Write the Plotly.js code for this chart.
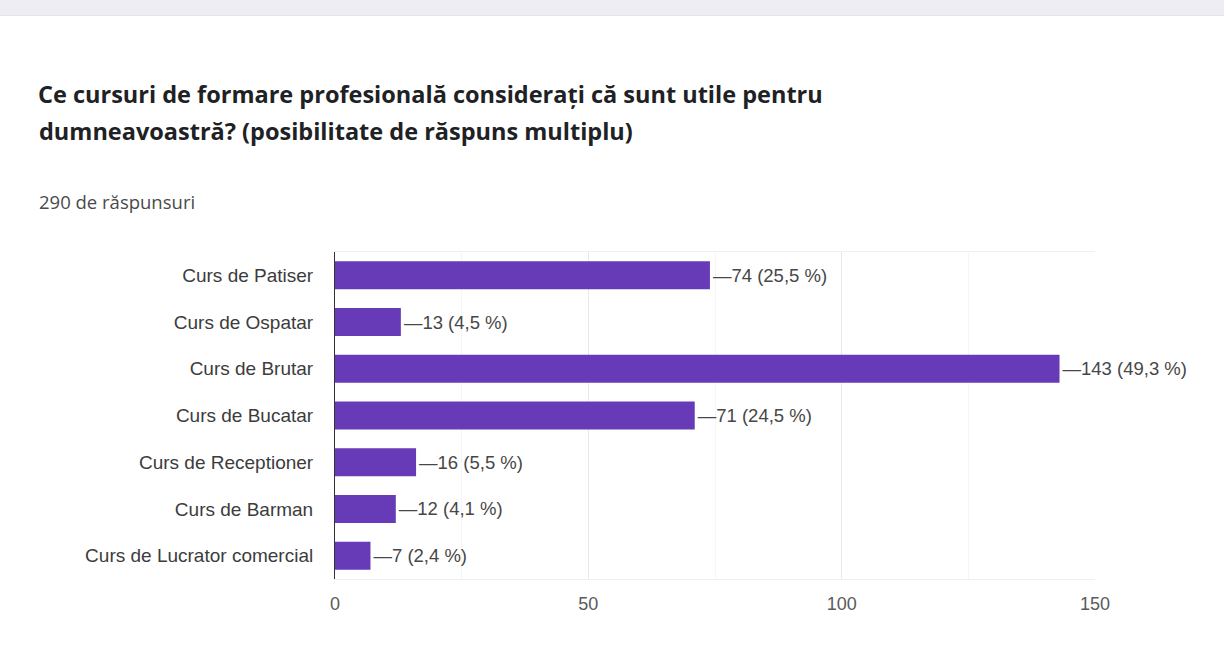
<!DOCTYPE html>
<html>
<head>
<meta charset="utf-8">
<script src="https://cdn.plot.ly/plotly-3.0.1.min.js"></script>
<style>
  html, body { margin:0; padding:0; background:#ffffff; }
  #band { position:absolute; left:0; top:0; width:1224px; height:15px; background:#eeedf3; border-bottom:1px solid #e4e2ec; }
  #chart { position:absolute; left:0; top:0; width:1224px; height:668px; }
</style>
</head>
<body>
<div id="chart"></div>
<div id="band"></div>
<script>
const categories = [
  "Curs de Patiser",
  "Curs de Ospatar",
  "Curs de Brutar",
  "Curs de Bucatar",
  "Curs de Receptioner",
  "Curs de Barman",
  "Curs de Lucrator comercial"
];
const counts = [74, 13, 143, 71, 16, 12, 7];
const percents = ["25,5", "4,5", "49,3", "24,5", "5,5", "4,1", "2,4"];
const xTicks = [0, 50, 100, 150];
const xMinorTicks = [25, 75, 125];
const titleLine1 = "Ce cursuri de formare profesională considerați că sunt utile pentru";
const titleLine2 = "dumneavoastră? (posibilitate de răspuns multiplu)";
const subtitle = "290 de răspunsuri";

const labels = counts.map((c, i) => "\u2014" + c + " (" + percents[i] + " %)");

const trace = {
  type: "bar",
  orientation: "h",
  x: counts,
  y: categories,
  marker: { color: "#673ab7" },
  width: 0.6,
  text: labels,
  textposition: "outside",
  constraintext: "none",
  cliponaxis: false,
  textfont: { family: "Liberation Sans, Arial, sans-serif", size: 18.5, color: "#474747" },
  hoverinfo: "none"
};

const W = 1224, H = 668;
const ML = 335, MR = 129, MT = 252, MB = 89;
const PW = W - ML - MR, PH = H - MT - MB;
const titleFont = { family: "Open Sans, Roboto, Arial, sans-serif", size: 23.5, color: "#202124" };
const layout = {
  width: W, height: H,
  paper_bgcolor: "#ffffff",
  plot_bgcolor: "#ffffff",
  margin: { l: ML, r: MR, t: MT, b: MB },
  showlegend: false,
  title: {
    text: "<b>" + titleLine1 + "</b>",
    x: 38 / W, xanchor: "left",
    y: 1 - 95 / H, yanchor: "middle",
    font: titleFont
  },
  annotations: [
    {
      text: "<b>" + titleLine2 + "</b>",
      xref: "paper", yref: "paper",
      x: (38 - ML) / PW, xanchor: "left",
      y: 1 + (MT - 131) / PH, yanchor: "middle",
      showarrow: false,
      borderpad: 0,
      font: titleFont
    },
    {
      text: subtitle,
      xref: "paper", yref: "paper",
      x: (38 - ML) / PW, xanchor: "left",
      y: 1 + (MT - 201) / PH, yanchor: "middle",
      showarrow: false,
      borderpad: 0,
      font: { family: "Open Sans, Roboto, Arial, sans-serif", size: 18.5, color: "#4a4a4a" }
    }
  ],
  xaxis: {
    range: [0, 150],
    tickvals: xTicks,
    ticktext: xTicks.map(String),
    showgrid: true,
    gridcolor: "#e8e8e8",
    minor: { tickvals: xMinorTicks, showgrid: true, gridcolor: "#f5f5f5", ticks: "" },
    zeroline: false,
    showline: true,
    mirror: true,
    linecolor: "#f0f0f0",
    ticks: "outside",
    ticklen: 8,
    tickcolor: "rgba(0,0,0,0)",
    tickfont: { family: "Liberation Sans, Arial, sans-serif", size: 18, color: "#5a5a5a" },
    fixedrange: true
  },
  yaxis: {
    autorange: "reversed",
    showgrid: false,
    zeroline: false,
    showline: true,
    linecolor: "#333333",
    linewidth: 1,
    ticks: "outside",
    ticklen: 17,
    tickcolor: "rgba(0,0,0,0)",
    tickfont: { family: "Liberation Sans, Arial, sans-serif", size: 19, color: "#3c3c3c" },
    fixedrange: true
  },
  bargap: 0.4
};

Plotly.newPlot("chart", [trace], layout, { displayModeBar: false, staticPlot: true });
</script>
</body>
</html>
